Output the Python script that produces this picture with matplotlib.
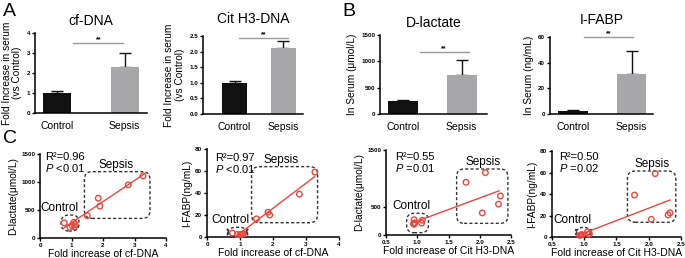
import numpy as np
import matplotlib
matplotlib.use('Agg')
import matplotlib.pyplot as plt
from matplotlib.patches import FancyBboxPatch

plt.rcParams['font.family'] = ['Liberation Sans', 'DejaVu Sans']
plt.rcParams['mathtext.fontset'] = 'custom'
plt.rcParams['mathtext.it'] = 'Liberation Sans:italic'
plt.rcParams['mathtext.rm'] = 'Liberation Sans'

# ==========================================================
# DATA
# ==========================================================
grupos = ['Control', 'Sepsis']

cfdna_media = [1.0, 2.28]
cfdna_erro = [0.12, 0.72]
cith3_media = [1.0, 2.12]
cith3_erro = [0.07, 0.22]
dlac_media = [240, 750]
dlac_erro = [30, 280]
ifabp_media = [2.5, 31.5]
ifabp_erro = [0.6, 18]

# scatter: cf-DNA vs D-lactate
c1_x = [0.77, 0.95, 1.02, 1.07, 1.10, 1.12, 1.50, 1.85, 1.90, 2.80, 3.27]
c1_y = [270, 190, 220, 280, 200, 240, 400, 710, 570, 950, 1110]
c1_fit_x = [0.77, 3.30]
c1_fit_y = [185, 1140]

# scatter: cf-DNA vs I-FABP
c2_x = [0.77, 0.92, 1.00, 1.03, 1.07, 1.10, 1.50, 1.85, 1.90, 2.80, 3.27]
c2_y = [3.5, 2.3, 2.0, 2.2, 2.6, 3.0, 16.5, 22.5, 20.0, 39.0, 59.0]
c2_fit_x = [0.85, 3.27]
c2_fit_y = [0.0, 55.0]

# scatter: Cit H3-DNA vs D-lactate
c3_x = [0.94, 0.95, 0.95, 0.96, 1.07, 1.08, 1.78, 2.04, 2.09, 2.30, 2.33]
c3_y = [200, 270, 190, 215, 210, 260, 930, 390, 1100, 545, 690]
c3_fit_x = [0.95, 2.31]
c3_fit_y = [225, 780]

# scatter: Cit H3-DNA vs I-FABP
c4_x = [0.93, 0.95, 0.97, 1.05, 1.07, 1.08, 1.78, 2.04, 2.10, 2.30, 2.33]
c4_y = [1.5, 2.0, 2.2, 4.8, 2.5, 3.0, 39.0, 16.5, 59.0, 20.5, 22.5]
c4_fit_x = [0.92, 2.33]
c4_fit_y = [1.9, 34.4]

# ==========================================================
# FIGURA
# ==========================================================
fig = plt.figure(figsize=(6.85, 2.58), dpi=100)

cor_control = '#111111'
cor_sepsis = '#a7a7aa'
cor_vermelho = '#e8473f'


def estilo_eixo(ax):
    for lado in ['top', 'right']:
        ax.spines[lado].set_visible(False)
    for lado in ['left', 'bottom']:
        ax.spines[lado].set_linewidth(1.1)
    ax.tick_params(direction='out', length=2.5, width=1.0, labelsize=4.5, pad=1)


def grafico_barras(pos, medias, erros, ylim, yticks, ytl, xlim, largura, titulo, ylabel,
                   sig_y, sig_x, pad_titulo):
    ax = fig.add_axes(pos)
    ax.bar([0, 1], medias, width=largura, color=[cor_control, cor_sepsis], zorder=2)
    ax.errorbar([0, 1], medias, yerr=[[0, 0], erros], fmt='none', ecolor='#111111',
                elinewidth=1.0, capsize=4.5, capthick=1.0, zorder=1)
    ax.plot(sig_x, [sig_y, sig_y], color='#999999', linewidth=1.0, clip_on=False)
    ax.text(np.mean(sig_x), sig_y, '**', ha='center', va='bottom', fontsize=5, fontweight='bold')
    ax.set_xlim(xlim)
    ax.set_ylim(ylim)
    ax.set_yticks(yticks)
    ax.set_yticklabels(ytl, fontweight='bold')
    ax.set_xticks([0, 1])
    ax.set_xticklabels(grupos, fontsize=7.5)
    estilo_eixo(ax)
    ax.tick_params(axis='x', length=0, pad=6, labelsize=7.5)
    ax.set_title(titulo, fontsize=10, pad=pad_titulo)
    ax.set_ylabel(ylabel, fontsize=7.3, labelpad=3, linespacing=1.1)
    return ax


grafico_barras([0.0511, 0.562, 0.1635, 0.310], cfdna_media, cfdna_erro, (0, 4),
               [0, 1, 2, 3, 4], ['0', '1', '2', '3', '4'], (-0.33, 1.33), 0.42,
               'cf-DNA', 'Fold Increase in serum\n(vs Control)', 3.5, [0.24, 0.98], 6)
grafico_barras([0.2964, 0.558, 0.146, 0.302], cith3_media, cith3_erro, (0, 2.5),
               [0, 0.5, 1.0, 1.5, 2.0, 2.5], ['0.0', '0.5', '1.0', '1.5', '2.0', '2.5'],
               (-0.65, 1.41), 0.52, 'Cit H3-DNA', 'Fold Increase in serum\n(vs Control)',
               2.43, [0.09, 1.1], 9.5)
grafico_barras([0.5547, 0.558, 0.156, 0.306], dlac_media, dlac_erro, (0, 1500),
               [0, 500, 1000, 1500], ['0', '500', '1000', '1500'], (-0.4, 1.43), 0.51,
               'D-lactate', 'In Serum (μmol/L)', 1180, [0.28, 1.12], 6)
grafico_barras([0.803, 0.558, 0.150, 0.298], ifabp_media, ifabp_erro, (0, 60),
               [0, 20, 40, 60], ['0', '20', '40', '60'], (-0.39, 1.36), 0.5,
               'I-FABP', 'In Serum (ng/mL)', 60, [0.19, 1.03], 9.5)


def caixa(ax, x0, x1, y0, y1, r_frac=0.06):
    xr = ax.get_xlim()[1] - ax.get_xlim()[0]
    yr = ax.get_ylim()[1] - ax.get_ylim()[0]
    bbox = ax.get_position()
    w_px = bbox.width * 685
    h_px = bbox.height * 258
    aspecto = (yr / h_px) / (xr / w_px)
    p = FancyBboxPatch((x0, y0), x1 - x0, y1 - y0,
                       boxstyle='round,pad=0,rounding_size=%f' % (xr * r_frac),
                       mutation_aspect=aspecto, fill=False, edgecolor='#333333',
                       linestyle=(0, (2.2, 1.6)), linewidth=1.0)
    ax.add_patch(p)


def grafico_disp(pos, xs, ys, fit_x, fit_y, xlim, xticks, xtl, ylim, yticks, ytl,
                 xlabel, ylabel, r2, ptxt, txt_pos, box_c, box_s, lab_c, lab_s):
    ax = fig.add_axes(pos)
    ax.scatter(xs, ys, s=16, facecolors='none', edgecolors=cor_vermelho, linewidths=1.0,
               zorder=3, clip_on=False)
    ax.plot(fit_x, fit_y, color=cor_vermelho, linewidth=1.0, zorder=2)
    ax.set_xlim(xlim)
    ax.set_ylim(ylim)
    ax.set_xticks(xticks)
    ax.set_xticklabels(xtl, fontweight='bold')
    ax.set_yticks(yticks)
    ax.set_yticklabels(ytl, fontweight='bold')
    estilo_eixo(ax)
    ax.set_xlabel(xlabel, fontsize=7.5, labelpad=0.5)
    ax.set_ylabel(ylabel, fontsize=7.3, labelpad=2)
    ax.text(txt_pos[0], txt_pos[1], r2, fontsize=8, ha='left', va='center')
    ax.text(txt_pos[0], txt_pos[2], ptxt, fontsize=8, ha='left', va='center')
    caixa(ax, *box_c)
    caixa(ax, *box_s)
    ax.text(lab_c[0], lab_c[1], 'Control', fontsize=8.5, ha='center', va='bottom')
    ax.text(lab_s[0], lab_s[1], 'Sepsis', fontsize=8.5, ha='center', va='bottom')
    return ax


grafico_disp([0.0584, 0.0775, 0.184, 0.3256], c1_x, c1_y, c1_fit_x, c1_fit_y,
             (0, 4), [0, 1, 2, 3, 4], ['0', '1', '2', '3', '4'],
             (0, 1500), [0, 500, 1000, 1500], ['0', '500', '1000', '1500'],
             'Fold increase of cf-DNA', 'D-lactate(μmol/L)',
             'R²=0.96', '$\\mathit{P}$ <0.01', (0.16, 1440, 1250),
             (0.67, 1.24, 125, 410), (1.41, 3.49, 350, 1185), (0.62, 425), (2.42, 1205))

grafico_disp([0.3022, 0.0814, 0.1927, 0.341], c2_x, c2_y, c2_fit_x, c2_fit_y,
             (0, 4), [0, 1, 2, 3, 4], ['0', '1', '2', '3', '4'],
             (0, 80), [0, 20, 40, 60, 80], ['0', '20', '40', '60', '80'],
             'Fold increase of cf-DNA', 'I-FABP(ng/mL)',
             'R²=0.97', '$\\mathit{P}$ <0.01', (0.24, 72, 61.5),
             (0.62, 1.23, 0.3, 8.8), (1.35, 3.35, 13, 64), (0.7, 9.6), (2.24, 65))

grafico_disp([0.5635, 0.0891, 0.1825, 0.3295], c3_x, c3_y, c3_fit_x, c3_fit_y,
             (0.5, 2.5), [0.5, 1.0, 1.5, 2.0, 2.5], ['0.5', '1.0', '1.5', '2.0', '2.5'],
             (0, 1500), [0, 500, 1500], ['0', '500', '1500'],
             'Fold increase of Cit H3-DNA', 'D-lactate(μmol/L)',
             'R²=0.55', '$\\mathit{P}$ =0.01', (0.64, 1370, 1176),
             (0.83, 1.18, 41, 383), (1.63, 2.45, 206, 1165), (0.9, 400), (2.05, 1185))

grafico_disp([0.8058, 0.0814, 0.1883, 0.3333], c4_x, c4_y, c4_fit_x, c4_fit_y,
             (0.5, 2.5), [0.5, 1.0, 1.5, 2.0, 2.5], ['0.5', '1.0', '1.5', '2.0', '2.5'],
             (0, 80), [0, 20, 40, 60, 80], ['0', '20', '40', '60', '80'],
             'Fold increase of Cit H3-DNA', 'I-FABP(ng/mL)',
             'R²=0.50', '$\\mathit{P}$ =0.02', (0.61, 74, 64),
             (0.87, 1.11, 0.3, 9.0), (1.67, 2.42, 13.7, 61.4), (0.81, 9.8), (2.05, 62.5))

# letras dos paineis
fig.text(0.004, 0.99, 'A', fontsize=14, va='top', ha='left')
fig.text(0.500, 0.99, 'B', fontsize=14, va='top', ha='left')
fig.text(0.004, 0.495, 'C', fontsize=14, va='top', ha='left')

fig.savefig('out.png', dpi=100)
